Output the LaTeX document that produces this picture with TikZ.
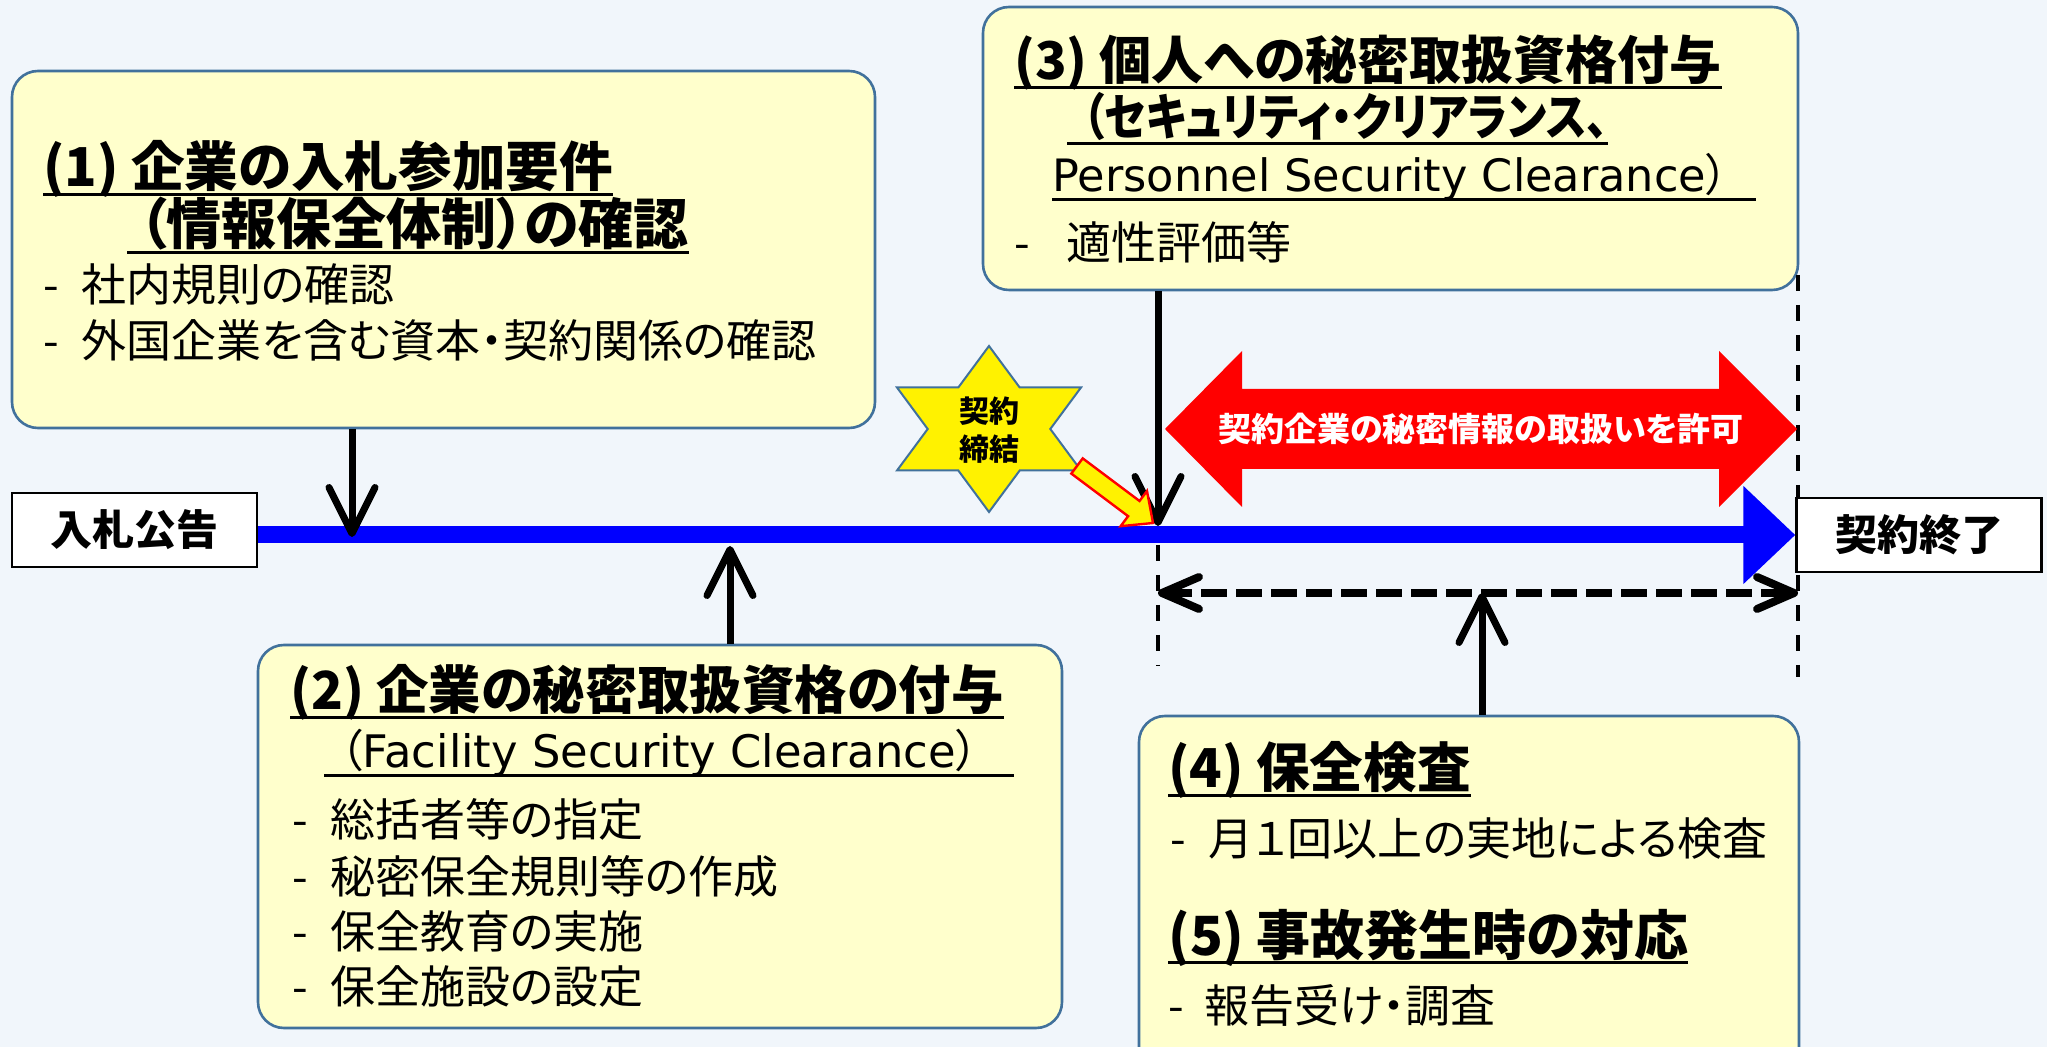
\documentclass[tikz,border=0pt]{standalone}
\usepackage{fontspec}
\setmainfont{Noto Sans CJK JP}[RawFeature=+palt]
\newfontfamily\cjkcond{Noto Sans CJK JP}[RawFeature=+palt, FakeStretch=0.86]
\newfontfamily\latinfont{DejaVu Sans}
\usetikzlibrary{arrows.meta}
\definecolor{bgc}{RGB}{241,246,251}
\definecolor{boxf}{RGB}{255,255,204}
\definecolor{boxb}{RGB}{65,113,156}
\newcommand\fsz[1]{\fontsize{#1}{#1}\selectfont}
\newsavebox\ulbox
\newcommand\myul[1]{\sbox\ulbox{#1}\rlap{\smash{\rule[-4.5pt]{\wd\ulbox}{1.5pt}}}\usebox\ulbox}
\begin{document}
\begin{tikzpicture}[x=0.5pt,y=-0.5pt,
  ybox/.style={draw=boxb, fill=boxf, line width=1.3pt, rounded corners=13pt, inner sep=0pt},
  tx/.style={inner sep=0pt, anchor=base west},
  itm/.style={tx, font=\fsz{22.5pt}},
  tbox/.style={draw=black, fill=white, line width=1.2pt, minimum width=122.5pt, minimum height=37pt, inner sep=0pt, font=\bfseries\fsz{21pt}},
  vdash/.style={line width=2pt, dash pattern=on 8pt off 7pt},
  barrow/.style={line width=3.5pt, -{Straight Barb[length=23pt,width=23pt,round]}},
  darrow/.style={line width=4pt, dash pattern=on 13pt off 4.5pt, {Straight Barb[length=18.5pt,width=16pt,round]}-{Straight Barb[length=18.5pt,width=16pt,round]}}
]
\useasboundingbox (0,0) rectangle (2047,1047);
\fill[bgc] (0,0) rectangle (2047,1047);
\begin{scope}
\clip (0,0) rectangle (2047,1047);
% boxes
\node[ybox, minimum width=431.5pt, minimum height=178.5pt] (b1) at (443.5,249.5) {};
\node[ybox, minimum width=402pt, minimum height=191.5pt] (b2) at (660,836.5) {};
\node[ybox, minimum width=407.5pt, minimum height=141.5pt] (b3) at (1390.5,148.5) {};
\node[ybox, minimum width=330pt, minimum height=182pt] (b4) at (1469,898) {};
% box 1 texts
\node[tx, font=\bfseries\fsz{26.8pt}] (t1a) at (43,187) {\myul{(1) 企業の入札参加要件}};
\node[tx, font=\bfseries\fsz{27.5pt}] (t1b) at (127,245) {\myul{\hspace{6pt}（情報保全体制）の確認}};
\node[itm] (i1a) at (43,302) {-\hspace{0.5em}社内規則の確認};
\node[itm] (i1b) at (43,358) {-\hspace{0.5em}外国企業を含む資本・契約関係の確認};
% box 2 texts
\node[tx, font=\bfseries\fsz{26.2pt}] (t2a) at (290,710) {\myul{(2) 企業の秘密取扱資格の付与}};
\node[tx, font=\fsz{22.4pt}] (t2b) at (324,768) {\myul{\hspace{8pt}（{\latinfont Facility Security Clearance}）\hspace{18pt}}};
\node[itm] (i2a) at (292,837) {-\hspace{0.5em}総括者等の指定};
\node[itm] (i2b) at (292,893) {-\hspace{0.5em}秘密保全規則等の作成};
\node[itm] (i2c) at (292,948) {-\hspace{0.5em}保全教育の実施};
\node[itm] (i2d) at (292,1003) {-\hspace{0.5em}保全施設の設定};
% box 3 texts
\node[tx, font=\bfseries\fsz{26pt}] (t3a) at (1014,80) {\myul{(3) 個人への秘密取扱資格付与}};
\node[tx, font=\cjkcond\bfseries\fsz{25pt}] (t3b) at (1067,136) {\myul{\hspace{8pt}（セキュリティ・クリアランス、}};
\node[tx, font=\fsz{22.3pt}] (t3c) at (1052,192) {\myul{{\latinfont Personnel Security Clearance}）\hspace{14pt}}};
\node[itm] (i3) at (1014,260) {-\hspace{0.8em}適性評価等};
% box 4 texts
\node[tx, font=\bfseries\fsz{26.8pt}] (t4) at (1168,788) {\myul{(4) 保全検査}};
\node[itm] (i4) at (1170,856) {-\hspace{0.5em}月１回以上の実地による検査};
\node[tx, font=\bfseries\fsz{27pt}] (t5) at (1168,955) {\myul{(5) 事故発生時の対応}};
\node[itm] (i5) at (1168,1022) {-\hspace{0.45em}報告受け・調査};
% dashed verticals
\coordinate (v1a) at (1158,545); \coordinate (v1b) at (1158,666);
\draw[vdash] (v1a) -- (v1b);
\coordinate (v2a) at (1798,275); \coordinate (v2b) at (1798,677);
\draw[vdash] (v2a) -- (v2b);
% start / end
\node[tbox] (st) at (134.5,530) {入札公告};
\node[tbox] (en) at (1919,535) {契約終了};
% timeline
\draw[line width=8.5pt, blue, -{Triangle[length=26pt,width=47.5pt]}] (st.east |- en.west) -- (en.west);
% red double arrow
\fill[red] (1165,429) -- (1242,351) -- (1242,389) -- (1719,389) -- (1719,351) -- (1797,429) -- (1719,507) -- (1719,469) -- (1242,469) -- (1242,507) -- cycle;
\node[font=\bfseries\fsz{16.5pt}, text=white, inner sep=0pt] (rt) at (1481,429) {契約企業の秘密情報の取扱いを許可};
% dashed double arrow
\coordinate (d1) at (1158,593); \coordinate (d2) at (1798,593); \coordinate (dm) at (1482,593);
\draw[darrow] (d1) -- (d2);
% black arrows
\coordinate (p1) at (352,537);
\draw[barrow] (b1.south -| p1) -- (p1);
\coordinate (p2) at (730,546);
\draw[barrow] (b2.north -| p2) -- (p2);
\coordinate (p3) at (1158,526);
\draw[barrow] (b3.south -| p3) -- (p3);
\draw[barrow] (b4.north -| dm) -- (dm);
% star
\filldraw[fill=yellow, draw=boxb, line width=1pt] (989,346) -- (1019.7,387.5) -- (1081,387.5) -- (1050.3,429) -- (1081,470.5) -- (1019.7,470.5) -- (989,512) -- (958.3,470.5) -- (897,470.5) -- (927.7,429) -- (897,387.5) -- (958.3,387.5) -- cycle;
\node[font=\bfseries\fontsize{15pt}{19pt}\selectfont, align=center, inner sep=0pt] (sx) at (989,430) {契約\\締結};
% small arrow
\filldraw[fill=yellow, draw=red, line width=1.2pt] (1071.3,473.6) -- (1128.1,516.2) -- (1120.6,526.2) -- (1153,523) -- (1147,491) -- (1139.5,501) -- (1082.7,458.4) -- cycle;
\end{scope}
\end{tikzpicture}
\end{document}
